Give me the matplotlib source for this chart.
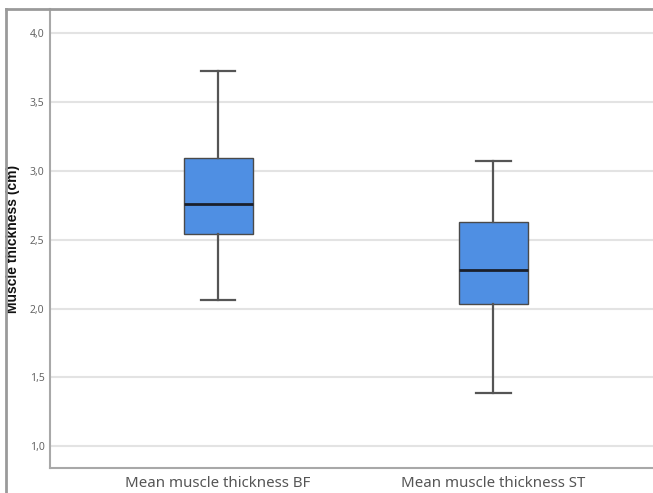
import matplotlib
matplotlib.use("Agg")
import matplotlib.pyplot as plt
from matplotlib.lines import Line2D

# box statistics read per variable (cm)
categories = ["Mean muscle thickness BF", "Mean muscle thickness ST"]
whisker_low = [2.06, 1.39]
q1 = [2.54, 2.03]
medians = [2.76, 2.28]
q3 = [3.09, 2.63]
whisker_high = [3.72, 3.07]

y_ticks = [1.0, 1.5, 2.0, 2.5, 3.0, 3.5, 4.0]
y_tick_labels = [f"{v:.1f}".replace(".", ",") for v in y_ticks]

plt.rcParams["font.family"] = ["Noto Sans", "DejaVu Sans"]

fig = plt.figure(figsize=(6.53, 4.93), dpi=100)
ax = fig.add_axes([50 / 653, 1 - 468 / 493, 1 - 50 / 653, (468 - 9) / 493])

stats = []
for i, name in enumerate(categories):
    stats.append({
        "label": name,
        "whislo": whisker_low[i],
        "q1": q1[i],
        "med": medians[i],
        "q3": q3[i],
        "whishi": whisker_high[i],
        "fliers": [],
    })

positions = list(range(1, len(categories) + 1))
ax.bxp(
    stats,
    positions=positions,
    widths=0.25,
    patch_artist=True,
    showfliers=False,
    boxprops=dict(facecolor="#4f8fe3", edgecolor="#4a4a4a", linewidth=1.0),
    medianprops=dict(color="#1a1f2b", linewidth=2.0),
    whiskerprops=dict(color="#555555", linewidth=1.6),
    capprops=dict(color="#555555", linewidth=1.6),
    capwidths=0.125,
    zorder=3,
)

ax.set_xlim(0.389, 2.58)
ax.set_ylim(0.844, 4.171)
ax.set_yticks(y_ticks)
ax.set_yticklabels(y_tick_labels, fontsize=7.5, color="#666666")
ax.set_xticks(positions)
ax.set_xticklabels(categories, fontsize=10.8, color="#555555")
ax.tick_params(axis="both", length=0)
ax.tick_params(axis="x", pad=6)
ax.tick_params(axis="y", pad=4)

ax.grid(axis="y", color="#e3e3e3", linewidth=1.5, zorder=0)
ax.set_axisbelow(True)

for side in ("top", "right"):
    ax.spines[side].set_visible(False)
for side in ("left", "bottom"):
    ax.spines[side].set_color("#a8a8a8")
    ax.spines[side].set_linewidth(1.5)

ax.set_ylabel("Muscle thickness (cm)", fontsize=10, fontweight="bold",
              family=["Liberation Sans", "DejaVu Sans"], color="#111111")
ax.yaxis.set_label_coords(-30 / 603, 0.5)

# outer chart frame
fig.add_artist(Line2D([6 / 653, 1], [1 - 9 / 493, 1 - 9 / 493], transform=fig.transFigure,
                      color="#9a9a9a", linewidth=2))
fig.add_artist(Line2D([6 / 653, 6 / 653], [0, 1 - 9 / 493], transform=fig.transFigure,
                      color="#9a9a9a", linewidth=2))

fig.savefig("out.png", dpi=100)
